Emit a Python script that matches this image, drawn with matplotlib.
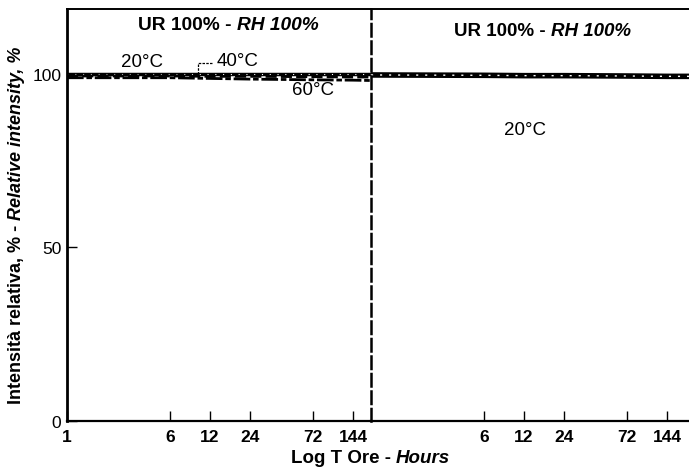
# intensita_relativa.py
"""Intensità relativa vs tempo (scala log), UR 100%"""

import matplotlib.pyplot as plt

plt.rcParams['font.family'] = ['Liberation Sans', 'DejaVu Sans']

# dati - pannello sinistro (20, 40, 60 °C)
ore_sx = [1, 6, 12, 24, 72, 144, 197]
ir_20 = [100, 100, 100, 100, 100, 100, 100]
ir_40 = [99.4, 99.4, 99.3, 99.3, 99.2, 99.1, 99.1]
ir_60 = [98.9, 98.9, 98.7, 98.5, 98.3, 98.2, 98.1]

# dati - pannello destro (20 °C)
ore_dx = [0.84, 6, 12, 24, 72, 144, 211]
ir_20_dx = [99.7, 99.6, 99.5, 99.5, 99.4, 99.3, 99.3]

tick_sx = [1, 6, 12, 24, 72, 144]
tick_dx = [6, 12, 24, 72, 144]
y_tick = [0, 50, 100]

fig = plt.figure(figsize=(6.89, 4.77), dpi=100)
ax1 = fig.add_axes([0.0972, 0.1153, 0.4412, 0.8637])
ax2 = fig.add_axes([0.5385, 0.1153, 0.4615, 0.8637])

for ax in (ax1, ax2):
    ax.set_xscale('log')
    ax.set_ylim(0, 118.7)
    ax.minorticks_off()
    ax.spines['right'].set_visible(False)
    ax.spines['top'].set_linewidth(1.4)
    ax.spines['bottom'].set_linewidth(1.6)
    ax.tick_params(axis='x', direction='in', length=7, width=1, pad=6,
                   labelsize=12.5)

# pannello sinistro
ax1.plot(ore_sx, ir_20, color='black', lw=2.5)
ax1.plot(ore_sx, ir_20, color='white', lw=0.8, ls=(0, (1, 6)))
ax1.plot(ore_sx, ir_40, color='black', lw=2, ls=(0, (4, 1.5)))
ax1.plot(ore_sx, ir_60, color='black', lw=2, ls=(0, (6, 1, 2, 1)))
ax1.set_xlim(1, 197)
ax1.set_xticks(tick_sx)
ax1.set_xticklabels([str(t) for t in tick_sx], fontweight='bold')
ax1.set_yticks(y_tick)
ax1.set_yticklabels([str(v) for v in y_tick])
ax1.tick_params(axis='y', direction='in', length=7, width=1, pad=4,
                labelsize=12.5)
ax1.spines['left'].set_linewidth(2)

ax1.text(3.7, 103.5, '20°C', fontsize=13.5, ha='center', va='center')
ax1.text(19.5, 103.8, '40°C', fontsize=13.5, ha='center', va='center')
ax1.text(72, 95.5, '60°C', fontsize=13.5, ha='center', va='center')
ax1.plot([9.7, 9.7, 12.6], [100, 103.2, 103.2], color='black', lw=0.9,
         ls=(0, (2, 1)))

# pannello destro
ax2.plot(ore_dx, ir_20_dx, color='black', lw=4)
ax2.plot(ore_dx, ir_20_dx, color='white', lw=1, ls=(0, (1.5, 5)))
ax2.set_xlim(0.84, 211)
ax2.set_xticks(tick_dx)
ax2.set_xticklabels([str(t) for t in tick_dx], fontweight='bold')
ax2.tick_params(axis='y', left=False, labelleft=False)
ax2.spines['left'].set_linewidth(1.8)
ax2.spines['left'].set_linestyle((0, (5, 2)))
ax2.text(12.2, 84, '20°C', fontsize=13.5, ha='center', va='center')

# titoli dei pannelli
fig.text(237 / 689, 1 - 25 / 477, 'UR 100% - ', fontsize=13.8,
         fontweight='bold', ha='right', va='center')
fig.text(237 / 689, 1 - 25 / 477, 'RH 100%', fontsize=13.8,
         fontweight='bold', style='italic', ha='left', va='center')
fig.text(551 / 689, 1 - 32 / 477, 'UR 100% - ', fontsize=13.5,
         fontweight='bold', ha='right', va='center')
fig.text(551 / 689, 1 - 32 / 477, 'RH 100%', fontsize=13.5,
         fontweight='bold', style='italic', ha='left', va='center')

# etichette assi
fig.text(396 / 689, 1 - 459 / 477, 'Log T Ore - ', fontsize=13.5,
         fontweight='bold', ha='right', va='center')
fig.text(396 / 689, 1 - 459 / 477, 'Hours', fontsize=13.5,
         fontweight='bold', style='italic', ha='left', va='center')
fig.text(17 / 689, 1 - 220 / 477, 'Intensità relativa, % - ', fontsize=13,
         fontweight='bold', rotation=90, ha='center', va='top')
fig.text(17 / 689, 1 - 220 / 477, 'Relative intensity, %', fontsize=13,
         fontweight='bold', style='italic', rotation=90, ha='center',
         va='bottom')

fig.savefig('out.png', dpi=100)
